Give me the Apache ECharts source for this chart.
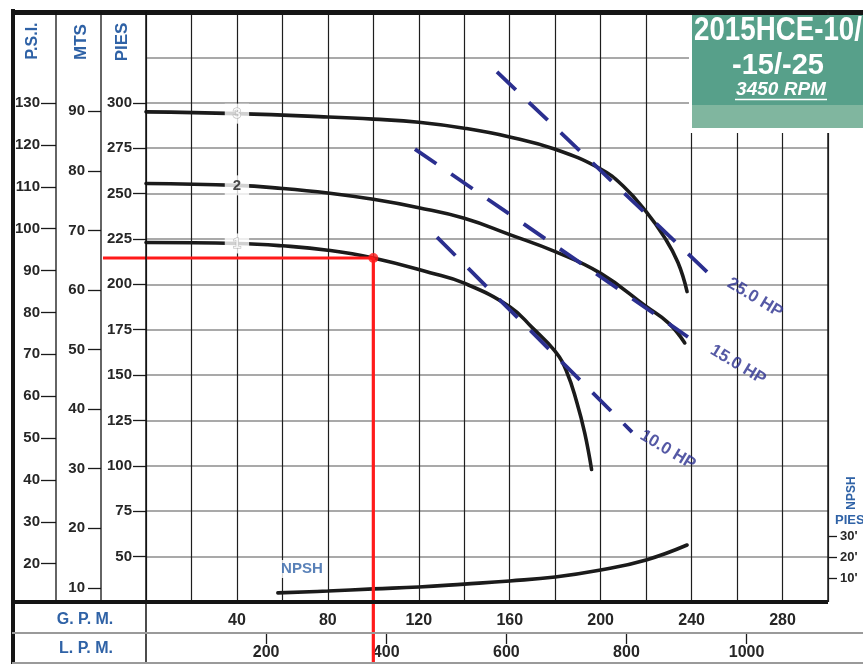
<!DOCTYPE html>
<html>
<head>
<meta charset="utf-8">
<title>2015HCE-10/-15/-25 — 3450 RPM</title>
<script src="https://cdn.jsdelivr.net/npm/echarts@6/dist/echarts.min.js"></script>
<style>
  html, body { margin: 0; padding: 0; background: #ffffff; }
  #chart { width: 863px; height: 664px; }
</style>
</head>
<body>
<div id="chart"></div>
<script>
// ---- Pump performance data (flow in U.S. GPM, head in feet) ----
const imp3Flow = [0, 40, 80, 100, 120, 140, 160, 180, 200, 210, 220, 228, 234, 238];
const imp3Head = [295, 294, 292.2, 291, 289.3, 286, 281.2, 274.4, 263.5, 254, 240, 226, 212, 196];

const imp2Flow = [0, 40, 60, 80, 100, 120, 140, 160, 180, 200, 220, 230, 237];
const imp2Head = [255.5, 254.5, 252.8, 250.3, 246.8, 242.2, 236.4, 227.4, 218, 206, 187.8, 178.5, 167.7];

const imp1Flow = [0, 40, 60, 80, 100, 125, 140, 160, 170, 180, 185, 189.5, 193, 196];
const imp1Head = [223, 222.5, 221.2, 218.8, 214.5, 206.4, 200.6, 187.7, 176, 163, 152, 135, 118, 98];

const npshFlow = [58, 80, 100, 120, 140, 160, 180, 200, 220, 238];
const npshFeet = [2.9, 3.8, 4.8, 5.7, 7.1, 8.6, 10.5, 13.8, 18.6, 25.7];

// Motor power limit lines (two end points each)
const hp25Flow = [154.4, 246.8];
const hp25Head = [317, 206.8];
const hp15Flow = [118.3, 238.4];
const hp15Head = [274.5, 171];
const hp10Flow = [128, 213.8];
const hp10Head = [226, 118.6];

// Impeller tags on the curves
const tagNames = ['3', '2', '1'];
const tagFlow = [40, 40, 40];
const tagHead = [294, 254.5, 222.5];

// Power labels
const hpNames = ['25.0 HP', '15.0 HP', '10.0 HP'];
const hpLabelFlow = [267.9, 260.4, 229.5];
const hpLabelHead = [192.5, 155.6, 108.7];

// Selected duty point
const dutyFlow = 100;
const dutyHead = 214.5;

// NPSH caption position
const npshTagFlow = 68.6;
const npshTagFeet = 14.3;

// ---- Axis tick values ----
const gpmLabels = [40, 80, 120, 160, 200, 240, 280];
const lpmRange = [200, 1000, 200];     // min, max, step
const piesRange = [50, 300, 25];
const mtsRange = [10, 90, 10];
const psiRange = [20, 130, 10];
const npshRange = [10, 30, 10];

// ---- Unit conversions and scale extents ----
const FT_PER_PSI = 2.3067;
const M_PER_FT = 0.3048;
const LPM_PER_GPM = 3.78541;
const HEAD_MIN = 25, HEAD_MAX = 350, FLOW_MAX = 300;
const NPSH_MIN = -1.43, NPSH_MAX = 279.5;

const FONT = "'Liberation Sans', Arial, Helvetica, sans-serif";
const BLUE = '#2f62a6';
const NAVY = '#2b2f8f';
const INK = '#1b1b1b';
const RED = '#ff1a1a';

const W = 863, H = 664;
const PLOT = { left: 146, right: 35, top: 12, bottom: 62 };
const pL = PLOT.left, pR = W - PLOT.right, pT = PLOT.top, pB = H - PLOT.bottom;
const COL = 45;          // width of each unit column left of the plot
const ROW = 31;          // height of each flow row under the plot

// pixel position helpers for the secondary scales, derived from the plot extents
const yFt = v => pT + (HEAD_MAX - v) / (HEAD_MAX - HEAD_MIN) * (pB - pT);
const yNpsh = v => pB - (v - NPSH_MIN) / (NPSH_MAX - NPSH_MIN) * (pB - pT);
const xGpm = v => pL + v / FLOW_MAX * (pR - pL);
const scaleGrid = (left, yTop, yBottom) => ({ left, right: PLOT.right, top: yTop, bottom: H - yBottom });

const zip = (xs, ys) => xs.map((x, i) => [x, ys[i]]);
const labelFont = { fontSize: 15, fontWeight: 'bold', color: '#262626', fontFamily: FONT };

const scaleAxis = (gridIndex, range, position, tickLen, margin, extra) => Object.assign({
  type: 'value', gridIndex, position,
  min: range[0], max: range[1], interval: range[2],
  axisLine: { show: false, onZero: false },
  axisTick: { show: true, length: tickLen, lineStyle: { color: '#1a1a1a', width: 1.3 } },
  axisLabel: Object.assign({ margin }, labelFont),
  splitLine: { show: false }
}, extra || {});
const hiddenAxis = gridIndex => ({
  type: 'value', gridIndex, show: false, min: 1, max: 2,
  axisLine: { show: false, onZero: false }
});

const curve = (name, flow, head, yIdx) => ({
  name, type: 'line', xAxisIndex: 0, yAxisIndex: yIdx || 0,
  data: zip(flow, head), smooth: 0.45,
  showSymbol: false, symbol: 'none', silent: true, z: 3,
  lineStyle: { color: INK, width: 3.6, cap: 'round' }
});
const hpLine = (name, flow, head) => ({
  name, type: 'line', xAxisIndex: 0, yAxisIndex: 0,
  data: zip(flow, head), showSymbol: false, symbol: 'none', silent: true, z: 4,
  lineStyle: { color: NAVY, width: 3.8, type: [26, 18] }
});

const chart = echarts.init(document.getElementById('chart'), null, { renderer: 'canvas' });

const option = {
  animation: false,
  backgroundColor: '#ffffff',
  grid: [
    { left: PLOT.left, right: PLOT.right, top: PLOT.top, bottom: PLOT.bottom },                  // 0 plot
    scaleGrid(pL, yFt(piesRange[1]), yFt(piesRange[0])),                                          // 1 PIES
    scaleGrid(pL - COL, yFt(mtsRange[1] / M_PER_FT), yFt(mtsRange[0] / M_PER_FT)),                 // 2 MTS
    scaleGrid(pL - 2 * COL, yFt(psiRange[1] * FT_PER_PSI), yFt(psiRange[0] * FT_PER_PSI)),         // 3 P.S.I.
    scaleGrid(pL, yNpsh(npshRange[1]), yNpsh(npshRange[0])),                                        // 4 NPSH
    { left: xGpm(lpmRange[0] / LPM_PER_GPM), right: W - xGpm(lpmRange[1] / LPM_PER_GPM),
      top: PLOT.top, bottom: PLOT.bottom - ROW }                                                     // 5 L.P.M.
  ],
  xAxis: [
    { // G.P.M. with the vertical grid
      type: 'value', gridIndex: 0, position: 'bottom', min: 0, max: FLOW_MAX, interval: 20,
      axisLine: { show: false, onZero: false }, axisTick: { show: false },
      axisLabel: Object.assign({ customValues: gpmLabels, margin: 11 }, labelFont, { fontSize: 16 }),
      splitLine: { show: true, lineStyle: { color: '#1e1e1e', width: 1.2 } }
    },
    scaleAxis(5, lpmRange, 'bottom', 11, 12, {
      axisLabel: Object.assign({ margin: 12, formatter: v => String(v) }, labelFont, { fontSize: 16 })
    }),
    hiddenAxis(1), hiddenAxis(2), hiddenAxis(3), hiddenAxis(4)
  ],
  yAxis: [
    { // head in feet, horizontal grid
      type: 'value', gridIndex: 0, position: 'left', min: HEAD_MIN, max: HEAD_MAX, interval: 25,
      axisLine: { show: false, onZero: false }, axisTick: { show: false }, axisLabel: { show: false },
      splitLine: { show: true, lineStyle: { color: '#8c8c8c', width: 1.6 } }
    },
    { // NPSH in feet
      type: 'value', gridIndex: 0, position: 'right', min: NPSH_MIN, max: NPSH_MAX, show: false,
      axisLine: { show: false, onZero: false }
    },
    scaleAxis(1, piesRange, 'left', 13, 14),
    scaleAxis(2, mtsRange, 'left', 13, 16),
    scaleAxis(3, psiRange, 'left', 15, 16),
    scaleAxis(4, npshRange, 'right', 9, 12, {
      axisLabel: Object.assign({ margin: 12, formatter: v => v + "'" }, labelFont, { fontSize: 13 })
    }),
    hiddenAxis(5)
  ],
  series: [
    curve('Impulsor 3', imp3Flow, imp3Head),
    curve('Impulsor 2', imp2Flow, imp2Head),
    curve('Impulsor 1', imp1Flow, imp1Head),
    curve('NPSH', npshFlow, npshFeet, 1),
    hpLine('25.0 HP', hp25Flow, hp25Head),
    hpLine('15.0 HP', hp15Flow, hp15Head),
    hpLine('10.0 HP', hp10Flow, hp10Head),
    {
      name: 'tags', type: 'scatter', xAxisIndex: 0, yAxisIndex: 0, z: 6, silent: true,
      symbolSize: 0,
      data: tagNames.map((n, i) => ({
        name: n, value: [tagFlow[i], tagHead[i]],
        label: n === '2'
          ? { color: '#1a1a1a' }
          : { color: '#ffffff', textBorderColor: '#a8a8a8', textBorderWidth: 1 }
      })),
      label: {
        show: true, position: 'inside', formatter: '{b}', fontSize: 15, fontWeight: 'bold',
        fontFamily: FONT, backgroundColor: '#ffffff', padding: [3, 8, 2, 8]
      }
    },
    {
      name: 'hp labels', type: 'scatter', xAxisIndex: 0, yAxisIndex: 0, z: 6, silent: true,
      symbolSize: 0,
      data: hpNames.map((n, i) => ({ name: n, value: [hpLabelFlow[i], hpLabelHead[i]] })),
      label: {
        show: true, position: 'inside', formatter: '{b}', rotate: -31,
        fontSize: 17, fontWeight: 'bold', color: NAVY, fontFamily: FONT
      }
    },
    {
      name: 'npsh tag', type: 'scatter', xAxisIndex: 0, yAxisIndex: 1, z: 6, silent: true,
      symbolSize: 0,
      data: [{ name: 'NPSH', value: [npshTagFlow, npshTagFeet] }],
      label: {
        show: true, position: 'inside', formatter: '{b}', fontSize: 15, fontWeight: 'bold',
        color: BLUE, fontFamily: FONT, backgroundColor: '#ffffff', padding: [2, 1, 1, 1]
      }
    },
    {
      name: 'duty', type: 'scatter', xAxisIndex: 0, yAxisIndex: 0, z: 8, silent: true,
      symbol: 'circle', symbolSize: 10,
      itemStyle: { color: RED },
      data: [[dutyFlow, dutyHead]]
    }
  ]
};

chart.setOption(option);

// ---- Frame, headings, title plate and duty-point guide lines ----
const seg = (x1, y1, x2, y2, color, width, z) => ({
  type: 'line', silent: true, z: z || 50,
  shape: { x1, y1, x2, y2 },
  style: { stroke: color, lineWidth: width }
});
const txt = (text, x, y, font, fill, extra, align) => Object.assign({
  type: 'text', silent: true, z: 60, x, y,
  style: { text, font, fill, align: align || 'center', verticalAlign: 'middle' }
}, extra || {});

const duty = chart.convertToPixel({ seriesIndex: 10 }, [dutyFlow, dutyHead]);

const graphics = [
  // duty point guides
  seg(pL - COL + 2, duty[1], duty[0], duty[1], RED, 3.2, 45),
  seg(duty[0], duty[1], duty[0], H, RED, 3.2, 45),

  // frame and column rules
  seg(13, 9, 13, H, '#151515', 4),
  seg(11, 12.5, W, 12.5, '#151515', 5),
  seg(pL - 2 * COL, pT, pL - 2 * COL, pB, '#111111', 1.3),
  seg(pL - COL, pT, pL - COL, pB, '#111111', 1.3),
  seg(pL, pT, pL, H, '#111111', 1.5),
  seg(12, pB, pR, pB, '#151515', 4),
  seg(pR, pT, pR, pB, '#1e1e1e', 1.5),
  seg(12, pB + ROW, W, pB + ROW, '#9a9a9a', 2),
  seg(12, H - 1, W, H - 1, '#9a9a9a', 2),

  // column headings
  txt('P.S.I.', 33, 41, 'bold 16px ' + FONT, BLUE, { rotation: Math.PI / 2 }),
  txt('MTS', 81, 42, 'bold 17px ' + FONT, BLUE, { rotation: Math.PI / 2 }),
  txt('PIES', 122, 42, 'bold 17px ' + FONT, BLUE, { rotation: Math.PI / 2 }),
  txt('G. P. M.', 85, 620, 'bold 16px ' + FONT, BLUE),
  txt('L. P. M.', 86, 649, 'bold 16px ' + FONT, BLUE),
  txt('NPSH', 852, 493, 'bold 12px ' + FONT, BLUE, { rotation: Math.PI / 2 }),
  txt('PIES', 835, 520, 'bold 13px ' + FONT, BLUE, null, 'left'),

  // title plate
  { type: 'rect', silent: true, z: 55, shape: { x: 689, y: 15, width: W - 689, height: 118 }, style: { fill: '#ffffff' } },
  { type: 'rect', silent: true, z: 56, shape: { x: 692, y: 15, width: W - 692, height: 90 }, style: { fill: '#57a08a' } },
  { type: 'rect', silent: true, z: 56, shape: { x: 692, y: 105, width: W - 692, height: 23 }, style: { fill: '#80b69f' } },
  txt('2015HCE-10/', 694, 31, 'bold 33px ' + FONT, '#ffffff', { scaleX: 0.84 }, 'left'),
  txt('-15/-25', 778, 66, 'bold 29px ' + FONT, '#ffffff'),
  txt('3450 RPM', 781, 90, 'italic bold 19px ' + FONT, '#ffffff'),
  seg(735, 99.5, 827, 99.5, '#ffffff', 1.5, 60)
];

chart.setOption({ graphic: graphics });
</script>
</body>
</html>
